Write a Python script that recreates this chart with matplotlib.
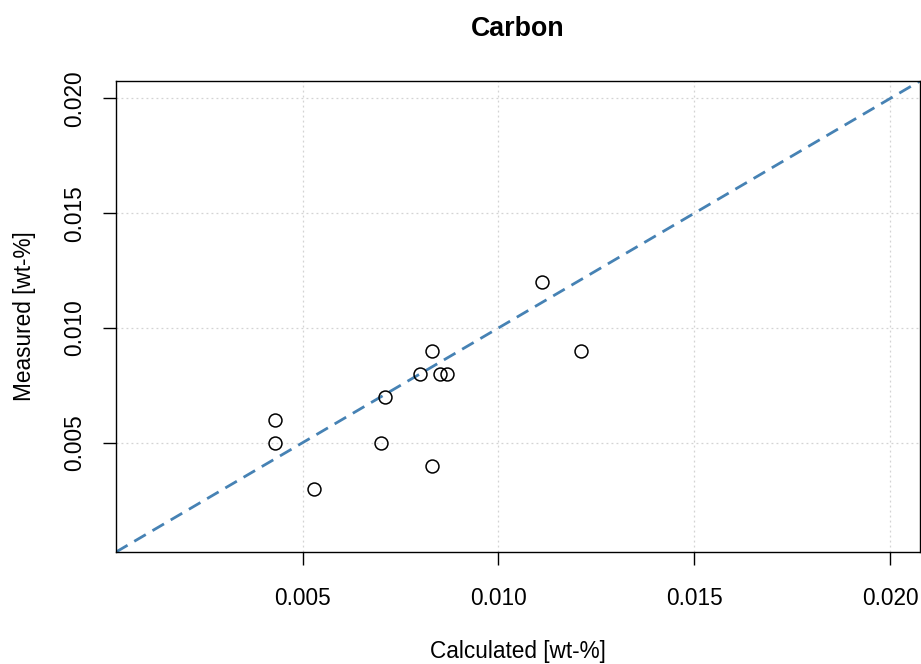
import matplotlib
matplotlib.use("Agg")
import matplotlib.pyplot as plt

plt.rcParams['font.family'] = ['Liberation Sans', 'DejaVu Sans']

calculated = [0.0043, 0.0043, 0.0053, 0.0070, 0.0071, 0.0080, 0.0083, 0.0083, 0.0085, 0.0087, 0.0111, 0.0121]
measured   = [0.0060, 0.0050, 0.0030, 0.0050, 0.0070, 0.0080, 0.0090, 0.0040, 0.0080, 0.0080, 0.0120, 0.0090]
ticks = [0.005, 0.010, 0.015, 0.020]
tick_labels = ["0.005", "0.010", "0.015", "0.020"]

fig = plt.figure(figsize=(9.21, 6.64), dpi=100)
ax = fig.add_axes([0.126, 0.1687, 0.8729, 0.7093])

lo, hi = 0.001, 0.020
pad = 0.04 * (hi - lo)
ax.set_xlim(lo - pad, hi + pad)
ax.set_ylim(lo - pad, hi + pad)

ax.set_xticks(ticks)
ax.set_xticklabels(tick_labels)
ax.set_yticks(ticks)
ax.set_yticklabels(tick_labels, rotation=90, va='center')

ax.grid(True, color='#d3d3d3', linestyle=(0, (1.5, 2.5)), linewidth=0.9)
ax.set_axisbelow(True)

ax.axline((0.001, 0.001), slope=1, color='#4682b4', linewidth=2.0,
          dashes=(4.8, 2.8), zorder=2)
ax.plot(calculated, measured, 'o', markerfacecolor='none', markeredgecolor='black',
        markersize=9.3, markeredgewidth=1.1, zorder=3)

ax.tick_params(axis='both', direction='out', length=9.4, width=1, labelsize=16.3)
ax.tick_params(axis='x', pad=15.5)
ax.tick_params(axis='y', pad=12)
for s in ax.spines.values():
    s.set_linewidth(1)

ax.set_xlabel("Calculated [wt-%]", fontsize=16.3, labelpad=22)
ax.set_ylabel("Measured [wt-%]", fontsize=16.3, labelpad=20)
fig.text(0.5624, 0.957, "Carbon", ha='center', va='center', fontsize=19.3, fontweight='bold')

fig.savefig("out.png", dpi=100)
